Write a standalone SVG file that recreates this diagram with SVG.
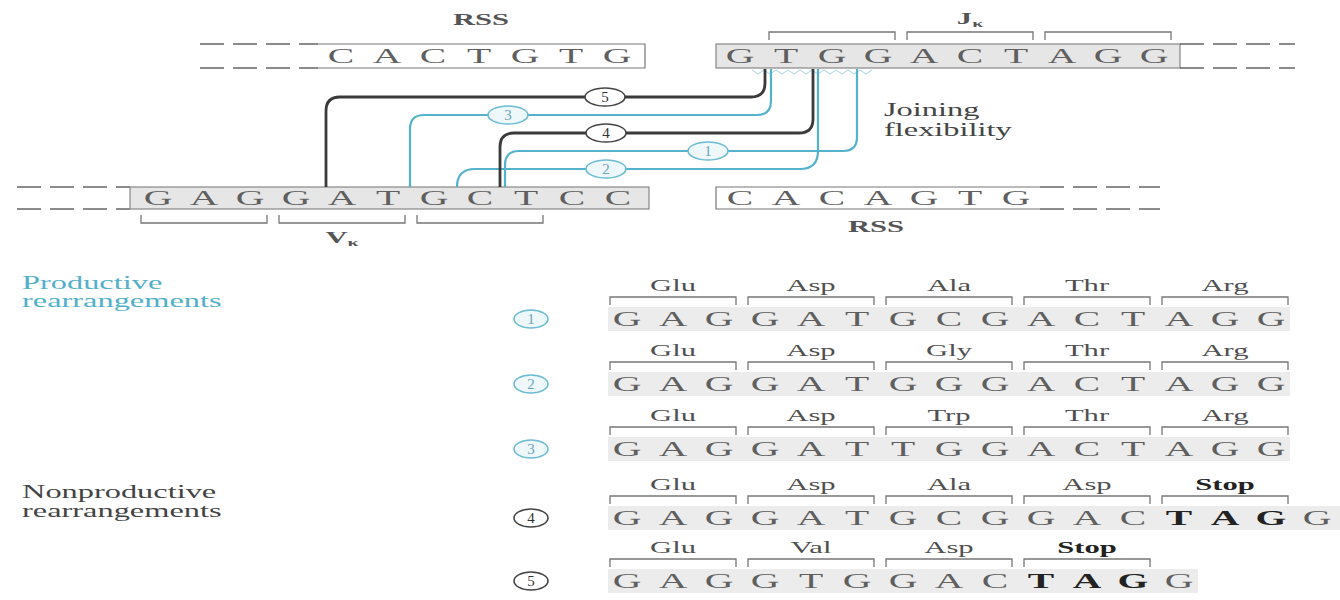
<svg xmlns="http://www.w3.org/2000/svg" width="1340" height="600" viewBox="0 0 1340 600">
<style>
.seq{font-family:"Liberation Serif",serif;font-size:22px;fill:#5f5f5f;text-anchor:middle}
.aa{font-family:"Liberation Serif",serif;font-size:17px;fill:#505050;text-anchor:middle}
.lbl{font-family:"Liberation Serif",serif;font-size:18px;fill:#444}
.blue{fill:#52b0ca}
.rss{font-family:"Liberation Serif",serif;font-weight:bold;font-size:17px;fill:#555;text-anchor:middle}
.num{font-family:"Liberation Serif",serif;font-size:15px;text-anchor:middle}
.br{fill:none;stroke:#777;stroke-width:1.3}
.dash{fill:none;stroke:#666;stroke-width:1.5;stroke-dasharray:24 9}
.kline{fill:none;stroke:#3a3a3a;stroke-width:2.8}
.bline{fill:none;stroke:#55b2cd;stroke-width:2.2}
.kc{fill:#fff;stroke:#444;stroke-width:1.6}
.bc{fill:#eef8fb;stroke:#6bbcd4;stroke-width:1.6}
.box{fill:#e6e6e6;stroke:#888;stroke-width:1.2}
.wbox{fill:#fff;stroke:#777;stroke-width:1.2}
.bold{font-weight:bold;fill:#222}
</style>

<g id="strand-top">
  <path class="dash" d="M200,44 H318 M200,68 H318"/>
  <path class="wbox" d="M318,44 H645 V68 H318"/>
  <text class="seq" transform="translate(341,63) scale(1.8,1)" x="0 25.56 51.11 76.67 102.22 127.78 153.33">CACTGTG</text>
  <text class="rss" transform="translate(481,25) scale(1.8,1)">RSS</text>
</g>

<g id="jk-segment">
  <rect class="box" x="716" y="44" width="464" height="24"/>
  <text class="seq" transform="translate(740,63) scale(1.8,1)" x="0 25.56 51.11 76.67 102.22 127.78 153.33 178.89 204.44 230">GTGGACTAGG</text>
  <path class="dash" d="M1180,44 H1295 M1180,68 H1295"/>
  <path class="br" d="M769,40 V32 H895 V40 M907,40 V32 H1033 V40 M1045,40 V32 H1171 V40"/>
  <text class="rss" transform="translate(970,24) scale(1.8,1)">J<tspan font-size="11" dy="3">κ</tspan></text>
  <path d="M752,70 l6,4 l6,-4 l6,4 l6,-4 l6,4 l6,-4 l6,4 l6,-4 l6,4 l6,-4 l6,4 l6,-4 l6,4 l6,-4 l6,4 l6,-4 l6,4 l6,-4 l6,4 l6,-4" fill="none" stroke="#a5d6e6" stroke-width="1"/>
</g>

<g id="vk-segment">
  <path class="dash" d="M17,187 H130 M17,209 H130"/>
  <rect class="box" x="130" y="187" width="519" height="22"/>
  <text class="seq" transform="translate(158,205) scale(1.8,1)" x="0 25.56 51.11 76.67 102.22 127.78 153.33 178.89 204.44 230 255.56">GAGGATGCTCC</text>
  <path class="br" d="M141,215 V223 H267 V215 M279,215 V223 H405 V215 M417,215 V223 H543 V215"/>
  <text class="rss" transform="translate(342,243) scale(1.8,1)">V<tspan font-size="11" dy="3">κ</tspan></text>
</g>

<g id="strand-bottom-rss">
  <path class="wbox" d="M1040,187 H716 V209 H1040"/>
  <text class="seq" transform="translate(740,205) scale(1.8,1)" x="0 25.56 51.11 76.67 102.22 127.78 153.33">CACAGTG</text>
  <path class="dash" d="M1040,187 H1160 M1040,209 H1160"/>
  <text class="rss" transform="translate(876,232) scale(1.8,1)">RSS</text>
</g>

<g id="joining-label">
  <text class="lbl" transform="translate(884,116) scale(1.8,1)">Joining</text>
  <text class="lbl" transform="translate(884,136) scale(1.8,1)">flexibility</text>
</g>

<g id="connectors">
  <path class="bline" d="M505,187 V165 Q505,151 519,151 H843 Q857,151 857,137 V69"/>
  <path class="bline" d="M457,187 Q457,169 475,169 H800 Q818,169 818,151 V69"/>
  <path class="bline" d="M410,187 V129 Q410,115 424,115 H757 Q771,115 771,101 V69"/>
  <path class="kline" d="M326,187 V111 Q326,97 340,97 H751 Q765,97 765,83 V69"/>
  <path class="kline" d="M500,187 V147 Q500,133 514,133 H799 Q813,133 813,119 V69"/>
</g>

<g id="junction-labels">
  <g id="j5"><ellipse class="kc" cx="605" cy="97" rx="20" ry="9"/><text class="num" x="605" y="102" fill="#333">5</text></g>
  <g id="j3"><ellipse class="bc" cx="508" cy="115" rx="20" ry="9"/><text class="num" x="508" y="120" fill="#6aa6b8">3</text></g>
  <g id="j4"><ellipse class="kc" cx="606" cy="133" rx="20" ry="9"/><text class="num" x="606" y="138" fill="#333">4</text></g>
  <g id="j1"><ellipse class="bc" cx="708" cy="151" rx="20" ry="9"/><text class="num" x="708" y="156" fill="#6aa6b8">1</text></g>
  <g id="j2"><ellipse class="bc" cx="606" cy="169" rx="20" ry="9"/><text class="num" x="606" y="174" fill="#6aa6b8">2</text></g>
</g>

<g id="productive-label">
  <text class="lbl blue" transform="translate(22,289) scale(1.8,1)">Productive</text>
  <text class="lbl blue" transform="translate(22,307) scale(1.8,1)">rearrangements</text>
</g>
<g id="nonproductive-label">
  <text class="lbl" transform="translate(22,498) scale(1.8,1)">Nonproductive</text>
  <text class="lbl" transform="translate(22,517) scale(1.8,1)">rearrangements</text>
</g>

<g id="row1">
  <rect x="608" y="307" width="682" height="24" fill="#ececec"/>
  <ellipse class="bc" cx="531" cy="319" rx="17" ry="9"/><text class="num" x="531" y="324" fill="#6aa6b8">1</text>
  <path class="br" d="M610,305 V297 H736 V305 M748,305 V297 H874 V305 M886,305 V297 H1012 V305 M1024,305 V297 H1150 V305 M1162,305 V297 H1288 V305"/>
  <text class="aa" transform="translate(627,291) scale(1.8,1)"><tspan x="25.56">Glu</tspan><tspan x="102.22">Asp</tspan><tspan x="178.89">Ala</tspan><tspan x="255.56">Thr</tspan><tspan x="332.22">Arg</tspan></text>
  <text class="seq" transform="translate(627,326) scale(1.8,1)" x="0 25.56 51.11 76.67 102.22 127.78 153.33 178.89 204.44 230 255.56 281.11 306.67 332.22 357.78">GAGGATGCGACTAGG</text>
</g>

<g id="row2">
  <rect x="608" y="372" width="682" height="24" fill="#ececec"/>
  <ellipse class="bc" cx="531" cy="384" rx="17" ry="9"/><text class="num" x="531" y="389" fill="#6aa6b8">2</text>
  <path class="br" d="M610,370 V362 H736 V370 M748,370 V362 H874 V370 M886,370 V362 H1012 V370 M1024,370 V362 H1150 V370 M1162,370 V362 H1288 V370"/>
  <text class="aa" transform="translate(627,356) scale(1.8,1)"><tspan x="25.56">Glu</tspan><tspan x="102.22">Asp</tspan><tspan x="178.89">Gly</tspan><tspan x="255.56">Thr</tspan><tspan x="332.22">Arg</tspan></text>
  <text class="seq" transform="translate(627,391) scale(1.8,1)" x="0 25.56 51.11 76.67 102.22 127.78 153.33 178.89 204.44 230 255.56 281.11 306.67 332.22 357.78">GAGGATGGGACTAGG</text>
</g>

<g id="row3">
  <rect x="608" y="437" width="682" height="24" fill="#ececec"/>
  <ellipse class="bc" cx="531" cy="449" rx="17" ry="9"/><text class="num" x="531" y="454" fill="#6aa6b8">3</text>
  <path class="br" d="M610,435 V427 H736 V435 M748,435 V427 H874 V435 M886,435 V427 H1012 V435 M1024,435 V427 H1150 V435 M1162,435 V427 H1288 V435"/>
  <text class="aa" transform="translate(627,421) scale(1.8,1)"><tspan x="25.56">Glu</tspan><tspan x="102.22">Asp</tspan><tspan x="178.89">Trp</tspan><tspan x="255.56">Thr</tspan><tspan x="332.22">Arg</tspan></text>
  <text class="seq" transform="translate(627,456) scale(1.8,1)" x="0 25.56 51.11 76.67 102.22 127.78 153.33 178.89 204.44 230 255.56 281.11 306.67 332.22 357.78">GAGGATTGGACTAGG</text>
</g>

<g id="row4">
  <rect x="608" y="506" width="732" height="24" fill="#ececec"/>
  <ellipse class="kc" cx="531" cy="518" rx="17" ry="9"/><text class="num" x="531" y="523" fill="#333">4</text>
  <path class="br" d="M610,504 V496 H736 V504 M748,504 V496 H874 V504 M886,504 V496 H1012 V504 M1024,504 V496 H1150 V504 M1162,504 V496 H1288 V504"/>
  <text class="aa" transform="translate(627,490) scale(1.8,1)"><tspan x="25.56">Glu</tspan><tspan x="102.22">Asp</tspan><tspan x="178.89">Ala</tspan><tspan x="255.56">Asp</tspan><tspan x="332.22" class="bold">Stop</tspan></text>
  <text class="seq" transform="translate(627,525) scale(1.8,1)" x="0 25.56 51.11 76.67 102.22 127.78 153.33 178.89 204.44 230 255.56 281.11 306.67 332.22 357.78 383.33">GAGGATGCGGAC<tspan class="bold">TAG</tspan>G</text>
</g>

<g id="row5">
  <rect x="608" y="569" width="590" height="24" fill="#ececec"/>
  <ellipse class="kc" cx="531" cy="581" rx="17" ry="9"/><text class="num" x="531" y="586" fill="#333">5</text>
  <path class="br" d="M610,567 V559 H736 V567 M748,567 V559 H874 V567 M886,567 V559 H1012 V567 M1024,567 V559 H1150 V567"/>
  <text class="aa" transform="translate(627,553) scale(1.8,1)"><tspan x="25.56">Glu</tspan><tspan x="102.22">Val</tspan><tspan x="178.89">Asp</tspan><tspan x="255.56" class="bold">Stop</tspan></text>
  <text class="seq" transform="translate(627,588) scale(1.8,1)" x="0 25.56 51.11 76.67 102.22 127.78 153.33 178.89 204.44 230 255.56 281.11 306.67">GAGGTGGAC<tspan class="bold">TAG</tspan>G</text>
</g>
</svg>
